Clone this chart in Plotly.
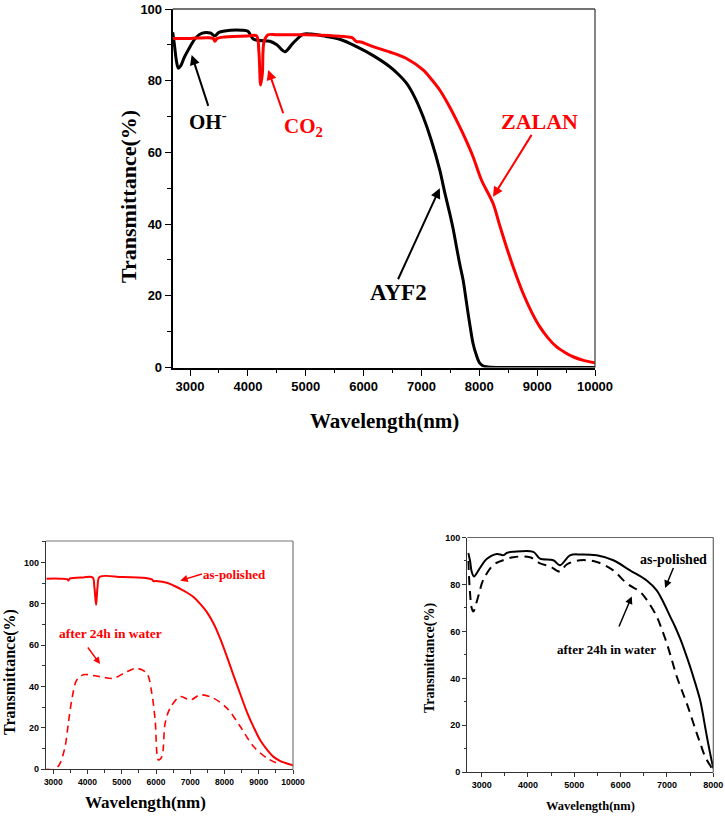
import plotly.graph_objects as go

W, H = 725, 818

# ---------------- data ----------------
# Top panel: AYF2 (black) and ZALAN (red)
ayf2_x = [2700, 2730, 2760, 2797, 2840, 2900, 3000, 3100, 3200, 3350, 3430, 3500, 3700, 3900, 4000,
          4092, 4200, 4380, 4500, 4640, 4780, 4960, 5100, 5300, 5600, 5878, 6166, 6453, 6600, 6741,
          6880, 7028, 7170, 7316, 7400, 7489, 7550, 7605, 7660, 7720, 7765, 7806, 7850, 7892, 7950,
          8008, 8060, 8123, 8300, 9000, 10000]
ayf2_y = [93.5, 90, 86, 83.5, 84.2, 86.5, 89.5, 92, 93.2, 93.3, 92.5, 93.5, 94.1, 94.1, 93.8,
          91.6, 91.2, 91, 90, 88.1, 90.5, 93, 93, 92.5, 91.5, 89.5, 87, 83.9, 81.8, 79.3,
          75.5, 70.0, 63.4, 55.1, 49.0, 43.0, 38.5, 33.7, 29.0, 24.4, 19.6, 15.1, 10.6, 6.7, 3.4,
          1.2, 0.5, 0.2, 0, 0, 0]

zalan_x = [2700, 3000, 3300, 3400, 3430, 3470, 3600, 4000, 4150, 4190, 4220, 4250, 4280, 4350, 4500,
           5000, 5500, 5800, 5878, 5950, 6166, 6453, 6741, 7028, 7172, 7316, 7460, 7605, 7750, 7892,
           8037, 8237, 8350, 8468, 8600, 8756, 8900, 9044, 9190, 9332, 9480, 9620, 9800, 10000]
zalan_y = [91.8, 91.8, 92, 91.8, 91, 91.8, 92.2, 92.5, 92.5, 88, 78.8, 82, 91, 92.8, 92.8,
           92.8, 92.5, 92, 90.9, 90.8, 89.5, 88.0, 86.2, 83.0, 80.4, 77.4, 73.5, 69.0, 64.1, 58.8,
           52.3, 45.8, 39.8, 33.7, 27.4, 20.7, 15.6, 11.4, 8.2, 5.8, 4.2, 3.0, 2.0, 1.3]

# Bottom-left panel: ZALAN as-polished vs after 24h in water
bl_pol_x = [2800, 3200, 3400, 3439, 3480, 3877, 4150, 4200, 4249, 4290, 4350, 5000, 5700, 5880,
            5924, 6000, 6316, 6705, 6900, 7094, 7290, 7485, 7680, 7874, 8070, 8263, 8460, 8655,
            8850, 9044, 9240, 9433, 9630, 9825, 10000]
bl_pol_y = [92.2, 92.2, 92, 91.3, 92.2, 92.8, 92.8, 88, 79.5, 88, 93, 93, 92.5, 91.8,
            91.0, 91, 90.2, 87.3, 85.5, 83.3, 80.0, 76, 70.5, 63.2, 54.5, 45.4, 36.4, 27.7,
            20.4, 14, 9.5, 6, 4.0, 2.8, 2.0]

bl_wat_x = [2800, 3050, 3196, 3342, 3439, 3538, 3684, 3877, 4365, 4754, 5146, 5439, 5731, 5877,
            5974, 6070, 6170, 6266, 6412, 6705, 7000, 7290, 7678, 8070, 8459, 8848, 9240, 9532]
bl_wat_y = [0, 0, 2.9, 10.9, 22.3, 33.5, 43.2, 45.7, 44.8, 44, 47.2, 48.8, 46.4, 36.7,
            23.8, 4.5, 6.1, 22.3, 29.6, 35.2, 33.5, 36, 34.4, 29.6, 20.7, 11, 5.4, 3]

# Bottom-right panel: AYF2 as-polished vs after 24h in water
br_pol_x = [2711, 2750, 2784, 2834, 2900, 2963, 3108, 3324, 3468, 3550, 3683, 4115, 4259, 4547,
            4691, 4907, 5123, 5483, 5842, 6202, 6562, 6778, 6920, 7067, 7175, 7283, 7390, 7499,
            7607, 7715, 7770, 7823, 7931, 8000]
br_pol_y = [93.4, 90, 85.5, 83.4, 85, 87, 90.8, 93, 92.5, 93.5, 93.9, 93.9, 91, 90.3,
            88.2, 92.4, 92.8, 92.4, 90.3, 86, 81.7, 77.5, 72.5, 66.4, 62.0, 57.0, 51.3, 45,
            38.2, 30.8, 25.4, 19.4, 8.1, 1.7]

br_wat_x = [2711, 2747, 2784, 2819, 2927, 3035, 3251, 3395, 3683, 4043, 4259, 4475, 4691, 4835,
            5123, 5483, 5842, 6130, 6418, 6562, 6778, 6886, 6995, 7103, 7211, 7319, 7427, 7535,
            7643, 7733, 7823, 7967, 8000]
br_wat_y = [90, 77, 70, 68.5, 75, 82, 88.3, 89.8, 91.6, 91.6, 89, 87.7, 85.5, 88.5,
            90.3, 89.6, 86, 80.5, 76.9, 73.5, 66.4, 61, 55, 48, 40.8, 35, 29.4, 23,
            16.6, 11.5, 6.7, 1.7, 0.5]

top_xticks = [3000, 4000, 5000, 6000, 7000, 8000, 9000, 10000]
bl_xticks = [3000, 4000, 5000, 6000, 7000, 8000, 9000, 10000]
br_xticks = [3000, 4000, 5000, 6000, 7000, 8000]
y_ticks = [0, 20, 40, 60, 80, 100]

RED = "#ff0000"
BLACK = "#000000"
SERIF = "Liberation Serif"
SANS = "Liberation Sans"


def px_x(p):
    return p / W


def px_y(p):
    return 1 - p / H


fig = go.Figure()


def curve(x, y, color, width, xa, ya, name, dash="solid", sm=1.0):
    fig.add_trace(go.Scatter(x=x, y=y, mode="lines",
                             line=dict(color=color, width=width, dash=dash, shape="spline", smoothing=sm),
                             xaxis=xa, yaxis=ya, showlegend=False, name=name))


curve(ayf2_x, ayf2_y, BLACK, 3, "x", "y", "AYF2", sm=0.9)
curve(zalan_x, zalan_y, RED, 3, "x", "y", "ZALAN", sm=0.9)
curve(bl_pol_x, bl_pol_y, RED, 2, "x2", "y2", "as-polished", sm=0.9)
curve(bl_wat_x, bl_wat_y, RED, 1.6, "x2", "y2", "after 24h in water", "7px,5px", sm=0.9)
curve(br_pol_x, br_pol_y, BLACK, 2, "x3", "y3", "as-polished", sm=1.0)
curve(br_wat_x, br_wat_y, BLACK, 2, "x3", "y3", "after 24h in water", "9px,6px", sm=1.0)


def axis(domain, rng, ticks, anchor, fsize, tlen, mlen, lw, minor_dtick, lcolor=BLACK):
    return dict(domain=domain, range=rng, tickvals=ticks, ticktext=[str(t) for t in ticks],
                anchor=anchor, ticks="outside", automargin=False,
                ticklen=tlen, tickwidth=1.3, tickcolor=lcolor, showline=True, linecolor=lcolor,
                linewidth=lw, showgrid=False, zeroline=False,
                tickfont=dict(family=SANS, size=fsize, color=BLACK, weight="bold"),
                minor=dict(dtick=minor_dtick, ticks="outside", ticklen=mlen, tickwidth=1.1, tickcolor=lcolor,
                           showgrid=False),
                fixedrange=True)


xa = axis([172.7 / W, 595 / W], [2700, 10000], top_xticks, "y", 13, 6, 3.5, 2, 500)
xa["minor"]["tick0"] = 2500
ya = axis([px_y(367.5), px_y(9)], [0, 100], y_ticks, "x", 13, 6, 3.5, 2, 10)
xb = axis([46 / W, 293 / W], [2786, 10000], bl_xticks, "y2", 8.5, 4, 2.5, 1.3, 500, "#333")
xb["minor"]["tick0"] = 2500
yb = axis([px_y(769.3), px_y(541)], [0, 110.4], y_ticks, "x2", 9, 4, 2.5, 1.3, 10, "#333")
xc = axis([467.3 / W, 713.3 / W], [2690, 8000], br_xticks, "y3", 9, 4, 2.5, 1.3, 500, "#333")
xc["minor"]["tick0"] = 2500
yc = axis([px_y(772.3), px_y(537.5)], [0, 100], y_ticks, "x3", 9, 4, 2.5, 1.3, 10, "#333")

shapes = []
for xr, yr, col, wd in [("x", "y", "#444", 1.3), ("x2", "y2", "#777", 1.2), ("x3", "y3", "#666", 1.2)]:
    shapes.append(dict(type="line", xref=f"{xr} domain", yref=f"{yr} domain", x0=0, x1=1, y0=1, y1=1,
                       line=dict(color=col, width=wd)))
    shapes.append(dict(type="line", xref=f"{xr} domain", yref=f"{yr} domain", x0=1, x1=1, y0=0, y1=1,
                       line=dict(color=col, width=wd)))

ann = []


def title(text, cx, cy, size, angle=0):
    ann.append(dict(text=text, x=px_x(cx), y=px_y(cy), xref="paper", yref="paper", showarrow=False,
                    xanchor="center", yanchor="middle", textangle=angle,
                    font=dict(family=SERIF, size=size, color=BLACK, weight="bold")))


title("Transmittance(%)", 128, 196, 22, -90)
title("Wavelength(nm)", 384, 421, 21)
title("Transmittance(%)", 10, 672, 16, -90)
title("Wavelength(nm)", 145, 802, 17)
title("Transmittance(%)", 430, 658, 14, -90)
title("Wavelength(nm)", 590, 806, 12.5)


def label(text, x, y, xr, yr, color, size):
    ann.append(dict(text=text, x=x, y=y, xref=xr, yref=yr, showarrow=False, xanchor="center", yanchor="middle",
                    font=dict(family=SERIF, size=size, color=color, weight="bold")))


def arrow(x, y, ax, ay, xr, yr, color, width, size=1.0):
    ann.append(dict(text="", x=x, y=y, ax=ax, ay=ay, xref=xr, yref=yr, showarrow=True, arrowhead=2,
                    arrowsize=size, arrowwidth=width, arrowcolor=color))


def arrow_label(text, x, y, ax, ay, xr, yr, color, size, width, xanchor="center", yanchor="middle", asize=1.0):
    """Text placed at the arrow's tail; the arrow points to (x, y)."""
    ann.append(dict(text=text, x=x, y=y, ax=ax, ay=ay, xref=xr, yref=yr, showarrow=True, arrowhead=2,
                    arrowsize=asize, arrowwidth=width, arrowcolor=color, xanchor=xanchor, yanchor=yanchor,
                    borderpad=0, font=dict(family=SERIF, size=size, color=color, weight="bold")))


# top panel labels
arrow_label("OH<sup>-</sup>", 3028, 87.2, 16.6, 51, "x", "y", BLACK, 21, 2, "center", "top")
arrow_label("CO<sub>2</sub>", 4351, 83, 15, 43.3, "x", "y", RED, 21, 2, "left", "top")
arrow_label("ZALAN", 8237, 47.6, 46.7, -75, "x", "y", RED, 22, 2)
arrow_label("AYF2", 7317, 50, -41.7, 91, "x", "y", BLACK, 23, 2, "center", "top")

# bottom-left labels
arrow_label("as-polished", 6705, 91.2, 21.7, -6.7, "x2", "y2", RED, 13, 1.5, "left", "middle")
label("after 24h in water", 4658, 65.5, "x2", "y2", RED, 13.5)
arrow(4365, 50.9, -13.3, -18, "x2", "y2", RED, 1.5, 0.9)

# bottom-right labels
arrow_label("as-polished", 6959, 78.5, 8.3, -20, "x3", "y3", BLACK, 14, 1.5, "center", "bottom")
label("after 24h in water", 5700, 52.2, "x3", "y3", BLACK, 13)
arrow(6240, 74.9, -13.4, 31.6, "x3", "y3", BLACK, 1.5)

fig.update_layout(
    width=W, height=H, margin=dict(l=0, r=0, t=0, b=0), autosize=False,
    paper_bgcolor="white", plot_bgcolor="white", showlegend=False,
    xaxis=xa, yaxis=ya, xaxis2=xb, yaxis2=yb, xaxis3=xc, yaxis3=yc,
    shapes=shapes, annotations=ann,
)

fig.write_html("out.html", config={"displayModeBar": False},
               post_script="document.body.style.margin='0';document.body.style.overflow='hidden';")
